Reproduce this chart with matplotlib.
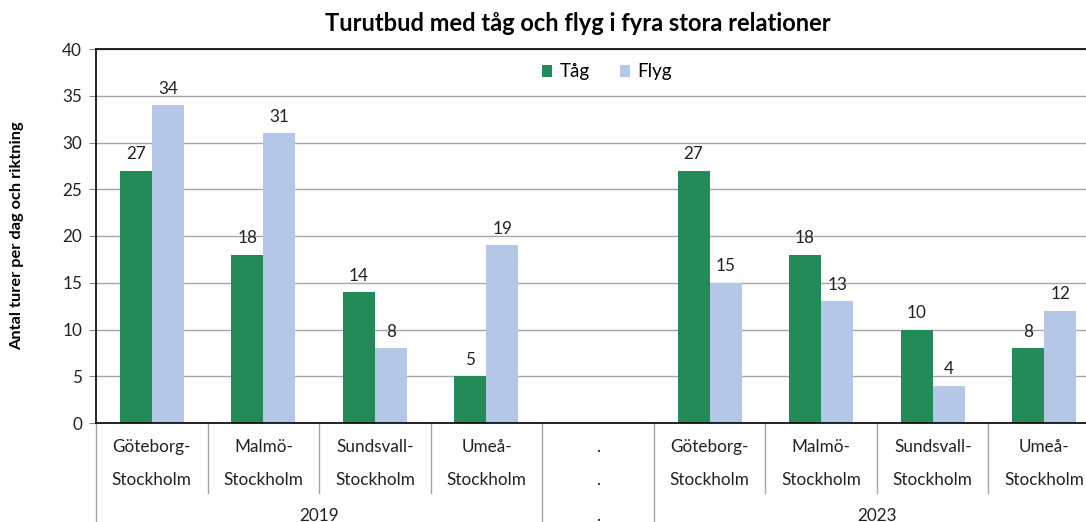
import numpy as np
import matplotlib.pyplot as plt

plt.rcParams["font.family"] = ["Lato", "DejaVu Sans"]

# -----------------------------
# Data
# -----------------------------
routes = ["Göteborg-", "Malmö-", "Sundsvall-", "Umeå-"]
route_labels = [r + "\nStockholm" for r in routes]
# 2019 group, separator column, 2023 group
categories = route_labels + [".\n."] + route_labels
group_labels = ["2019", ".", "2023"]
group_sizes = [4, 1, 4]

tag = [27, 18, 14, 5, np.nan, 27, 18, 10, 8]
flyg = [34, 31, 8, 19, np.nan, 15, 13, 4, 12]

green = "#238B57"
blue = "#B4C7E7"

# -----------------------------
# Plot
# -----------------------------
W, H = 1086, 522
fig = plt.figure(figsize=(W / 100, H / 100), dpi=100)
ax = fig.add_axes([96 / W, 1 - 423 / H, 1004 / W, 374 / H])

x = np.arange(len(categories))
bw = 0.287
b1 = ax.bar(x - bw / 2, tag, bw, color=green, label="Tåg")
b2 = ax.bar(x + bw / 2, flyg, bw, color=blue, label="Flyg")

fs = 12.3
for bars, vals in [(b1, tag), (b2, flyg)]:
    for rect, v in zip(bars, vals):
        if np.isnan(v):
            continue
        ax.annotate(f"{v:.0f}", (rect.get_x() + rect.get_width() / 2, v),
                    xytext=(0, 6), textcoords="offset points",
                    ha="center", va="bottom", fontsize=fs, color="#222222")

ax.set_xlim(-0.5, len(categories) - 0.5)
ax.set_ylim(0, 40)
ax.set_yticks(range(0, 41, 5))
ax.yaxis.grid(True, color="#A6A6A6", linewidth=1)
ax.set_axisbelow(True)
ax.tick_params(axis="y", labelsize=fs, length=5, color="#888888",
               labelcolor="#222222", pad=5)
ax.set_xticks([])
for s in ["left", "top", "bottom"]:
    ax.spines[s].set_color("black")
    ax.spines[s].set_linewidth(1.2)
ax.spines["right"].set_visible(False)

ax.set_ylabel("Antal turer per dag och riktning", fontsize=11.8,
              fontweight="bold")
ax.yaxis.set_label_coords(-(96 - 24) / 1004, 0.5)

fig.text(578 / W, 1 - 24 / H, "Turutbud med tåg och flyg i fyra stora relationer",
         ha="center", va="center", fontsize=17, fontweight="bold")

ax.legend(loc="center", bbox_to_anchor=(607 / W, 1 - 72 / H),
          bbox_transform=fig.transFigure, ncol=2, frameon=False,
          fontsize=13.5, handlelength=0.55, handleheight=0.55,
          handletextpad=0.4, columnspacing=1.6)

# -----------------------------
# Two-level category axis
# -----------------------------
tr = ax.get_xaxis_transform()
ah = 374
for i, lab in enumerate(categories):
    lines = lab.split("\n")
    for j, line in enumerate(lines):
        ax.text(i, -(447 + 33 * j - 423) / ah, line, transform=tr,
                ha="center", va="center", fontsize=fs, color="#222222")

start = 0
for g, n in zip(group_labels, group_sizes):
    centre = start + (n - 1) / 2
    ax.text(centre, -(516 - 423) / ah, g, transform=tr,
            ha="center", va="center", fontsize=fs, color="#222222")
    # outer separator
    ax.plot([start - 0.5, start - 0.5], [0, -(523 - 423) / ah], transform=tr,
            color="#A6A6A6", linewidth=1, clip_on=False)
    for k in range(1, n):
        xi = start + k - 0.5
        ax.plot([xi, xi], [0, -(493 - 423) / ah], transform=tr,
                color="#A6A6A6", linewidth=1, clip_on=False)
    start += n
ax.plot([start - 0.5, start - 0.5], [0, -(523 - 423) / ah], transform=tr,
        color="#A6A6A6", linewidth=1, clip_on=False)

fig.savefig("out.png", dpi=100)
